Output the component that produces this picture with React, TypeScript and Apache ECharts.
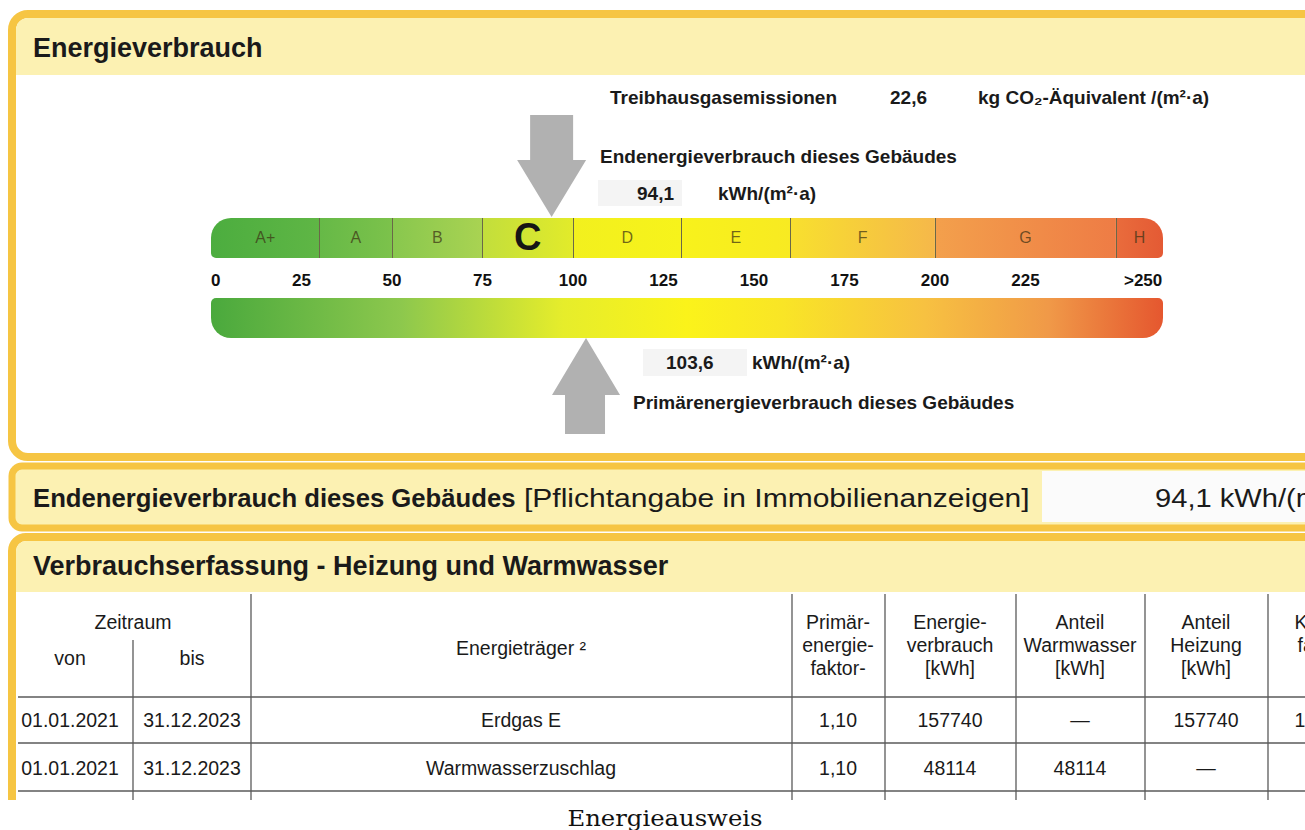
import React, { useEffect, useRef } from 'react';
import * as echarts from 'echarts';

// ---------- data ----------
const classNames = ['A+', 'A', 'B', 'C', 'D', 'E', 'F', 'G', 'H'];
const classBounds = [0, 30, 50, 75, 100, 130, 160, 200, 250, 263]; // last = drawn end of scale
const classColors: [string, string][] = [
  ['#4cad3f', '#5fb645'],
  ['#66b947', '#7cc24b'],
  ['#88c74e', '#a9d352'],
  ['#c2de3c', '#e2eb2a'],
  ['#f2f01e', '#f7f31b'],
  ['#f8f21b', '#f8ea22'],
  ['#f8e02e', '#f5b84a'],
  ['#f3a04c', '#ee7c45'],
  ['#e96c3c', '#e45a34'],
];
const scaleTicks = [0, 25, 50, 75, 100, 125, 150, 175, 200, 225];
const overflowLabel = '>250';
const overflowLabelAt = 257.5;
const energyClass = 'C';
const finalEnergy = 94.1;
const primaryEnergy = 103.6;
const ghgEmissions = 22.6;

const headerZeitraum = 'Zeitraum';
const headerVonBis = ['von', 'bis'];
const headerCarrier = 'Energieträger ²';
const headerCols = [
  ['Primär-', 'energie-', 'faktor-'],
  ['Energie-', 'verbrauch', '[kWh]'],
  ['Anteil', 'Warmwasser', '[kWh]'],
  ['Anteil', 'Heizung', '[kWh]'],
  ['Klima-', 'faktor'],
];
const tableRows = [
  ['01.01.2021', '31.12.2023', 'Erdgas E', '1,10', '157740', '—', '157740', '1'],
  ['01.01.2021', '31.12.2023', 'Warmwasserzuschlag', '1,10', '48114', '48114', '—', ''],
];

const fmt = (v: number) => v.toFixed(1).replace('.', ',');

// ---------- layout ----------
const FONT = '"Liberation Sans", Arial, Helvetica, sans-serif';
const BORDER = '#f6c543';
const HEAD = '#fcf1b2';
const colCenters = [70, 192, 521, 838, 950, 1080, 1206, 1300];
const vLines = [251, 792, 885, 1016, 1145, 1268];
const hLines = [697, 743, 791];
const rowY = [720, 768];

function txt(text: string, x: number, y: number, size: number, bold = false, align = 'left', extra: any = {}) {
  return {
    type: 'text',
    x,
    y,
    scaleX: extra.scaleX || 1,
    style: {
      text,
      fill: extra.fill || '#1a1a1a',
      font: `${bold ? 'bold ' : ''}${size}px ${extra.family || FONT}`,
      textAlign: align,
      textVerticalAlign: 'middle',
    },
    silent: true,
  };
}

export default function App() {
  const ref = useRef<HTMLDivElement>(null);

  useEffect(() => {
    if (!ref.current) return;
    const chart = echarts.init(ref.current, null, { renderer: 'svg' });

    const graphics: any[] = [];
    // panels
    graphics.push({ type: 'rect', shape: { x: 12, y: 14, width: 1400, height: 443, r: 16 }, style: { fill: '#fff', stroke: BORDER, lineWidth: 8 }, silent: true });
    graphics.push({ type: 'rect', shape: { x: 16, y: 18, width: 1400, height: 57, r: [12, 0, 0, 0] }, style: { fill: HEAD }, silent: true });
    graphics.push({ type: 'rect', shape: { x: 12, y: 466, width: 1400, height: 62, r: 10 }, style: { fill: HEAD, stroke: BORDER, lineWidth: 7 }, silent: true });
    graphics.push({ type: 'rect', shape: { x: 1042, y: 471, width: 300, height: 51 }, style: { fill: '#fbfbfb' }, silent: true });
    graphics.push({ type: 'rect', shape: { x: 12, y: 537, width: 1400, height: 320, r: 14 }, style: { fill: '#fff', stroke: BORDER, lineWidth: 8 }, silent: true });
    graphics.push({ type: 'rect', shape: { x: 16, y: 541, width: 1400, height: 51, r: [10, 0, 0, 0] }, style: { fill: HEAD }, silent: true });

    // faint scan boxes behind values
    graphics.push({ type: 'rect', shape: { x: 598, y: 180, width: 84, height: 26 }, style: { fill: '#f4f4f4' }, silent: true });
    graphics.push({ type: 'rect', shape: { x: 643, y: 349, width: 104, height: 27 }, style: { fill: '#f4f4f4' }, silent: true });

    // titles
    graphics.push(txt('Energieverbrauch', 33, 48, 27, true));
    graphics.push(txt('Endenergieverbrauch dieses Gebäudes', 33, 498, 25.7, true));
    graphics.push(txt('[Pflichtangabe in Immobilienanzeigen]', 524, 498, 26, false, 'left', { scaleX: 1.155 }));
    graphics.push(txt(`${fmt(finalEnergy)} kWh/(m²·a)`, 1155, 498, 26, false, 'left', { scaleX: 1.12 }));
    graphics.push(txt('Verbrauchserfassung - Heizung und Warmwasser', 33, 566, 27, true));

    // top labels
    graphics.push(txt('Treibhausgasemissionen', 610, 97, 19, true));
    graphics.push(txt(fmt(ghgEmissions), 890, 97, 19, true));
    graphics.push(txt('kg CO₂-Äquivalent /(m²·a)', 978, 97, 19, true));
    graphics.push(txt('Endenergieverbrauch dieses Gebäudes', 600, 156, 19, true));
    graphics.push(txt(fmt(finalEnergy), 637, 193, 19, true));
    graphics.push(txt('kWh/(m²·a)', 718, 193, 19, true));
    graphics.push(txt(fmt(primaryEnergy), 666, 362, 19, true));
    graphics.push(txt('kWh/(m²·a)', 752, 362, 19, true));
    graphics.push(txt('Primärenergieverbrauch dieses Gebäudes', 633, 402, 19, true));

    // table lines
    hLines.forEach((y) => graphics.push({ type: 'line', shape: { x1: 18, y1: y, x2: 1305, y2: y }, style: { stroke: '#5a5a5a', lineWidth: 1.3 }, silent: true }));
    vLines.forEach((x) => graphics.push({ type: 'line', shape: { x1: x, y1: 594, x2: x, y2: 800 }, style: { stroke: '#5a5a5a', lineWidth: 1.3 }, silent: true }));
    graphics.push({ type: 'line', shape: { x1: 133, y1: 640, x2: 133, y2: 800 }, style: { stroke: '#5a5a5a', lineWidth: 1.3 }, silent: true });

    // table header
    graphics.push(txt(headerZeitraum, 133, 622, 19.5, false, 'center'));
    graphics.push(txt(headerVonBis[0], colCenters[0], 658, 19.5, false, 'center'));
    graphics.push(txt(headerVonBis[1], colCenters[1], 658, 19.5, false, 'center'));
    graphics.push(txt(headerCarrier, colCenters[2], 648, 19.5, false, 'center'));
    headerCols.forEach((lines, i) => {
      const cx = i === 4 ? 1322 : colCenters[3 + i];
      lines.forEach((l, j) => graphics.push(txt(l, cx, 622 + j * 23, 19.5, false, 'center')));
    });
    // table rows
    tableRows.forEach((row, r) => {
      row.forEach((cell, c) => {
        if (cell) graphics.push(txt(cell, colCenters[c], rowY[r], 19.5, false, 'center'));
      });
    });

    // cover below image & caption
    graphics.push({ type: 'rect', shape: { x: 0, y: 800, width: 1305, height: 30 }, style: { fill: '#fff' }, silent: true });
    graphics.push(txt('Energieausweis', 665, 818, 22.5, false, 'center', { family: '"DejaVu Serif", "Liberation Serif", serif', fill: '#111', scaleX: 1.08 }));

    const classSeries = classNames.map((name, i) => {
      const isFirst = i === 0;
      const isLast = i === classNames.length - 1;
      const isCur = name === energyClass;
      return {
        name,
        type: 'bar',
        stack: 'classes',
        xAxisIndex: 0,
        yAxisIndex: 0,
        barWidth: 40,
        data: [classBounds[i + 1] - classBounds[i]],
        itemStyle: {
          color: {
            type: 'linear', x: 0, y: 0, x2: 1, y2: 0,
            colorStops: [
              { offset: 0, color: classColors[i][0] },
              { offset: 1, color: classColors[i][1] },
            ],
          },
          borderRadius: isFirst ? [20, 0, 0, 5] : isLast ? [0, 20, 5, 0] : 0,
        },
        label: {
          show: true,
          position: 'inside',
          formatter: name,
          fontFamily: FONT,
          fontSize: isCur ? 38 : 16,
          fontWeight: isCur ? 'bold' : 'normal',
          color: isCur ? '#151515' : 'rgba(60,50,20,0.72)',
          offset: [0, -1],
        },
        silent: true,
      };
    });

    chart.setOption({
      animation: false,
      graphic: { elements: graphics },
      grid: [
        { left: 211, top: 218, width: 952, height: 40 },
        { left: 211, top: 298, width: 952, height: 40 },
      ],
      xAxis: [
        {
          type: 'value', gridIndex: 0, min: classBounds[0], max: classBounds[classBounds.length - 1],
          axisLine: { show: false }, axisTick: { show: false }, splitLine: { show: false },
          axisLabel: {
            show: true,
            customValues: [...scaleTicks, overflowLabelAt],
            formatter: (v: number) => (v > 250 ? overflowLabel : String(v)),
            fontFamily: FONT, fontSize: 17, fontWeight: 'bold', color: '#111', margin: 14,
            alignMinLabel: 'left',
          },
        },
        {
          type: 'value', gridIndex: 1, min: classBounds[0], max: classBounds[classBounds.length - 1], show: false,
        },
      ],
      yAxis: [
        { type: 'category', gridIndex: 0, data: ['Skala'], show: false },
        { type: 'category', gridIndex: 1, data: ['Skala'], show: false },
      ],
      series: [
        ...classSeries,
        {
          name: 'Endenergie',
          type: 'scatter',
          xAxisIndex: 0,
          yAxisIndex: 0,
          data: [[finalEnergy, 0]],
          symbol: 'path://M13,0L56,0L56,45L69,45L34.5,102L0,45L13,45Z',
          symbolSize: [69, 102],
          symbolOffset: [0, -72],
          symbolKeepAspect: false,
          itemStyle: { color: '#9d9d9d' },
          clip: false,
          silent: true,
          z: 6,
          markLine: {
            silent: true,
            symbol: ['none', 'none'],
            label: { show: false },
            lineStyle: { color: '#6a6848', width: 1, type: 'solid' },
            data: classBounds.slice(1, classBounds.length - 1).map((v) => ({ xAxis: v })),
          },
        },
        {
          name: 'Verlauf',
          type: 'bar',
          xAxisIndex: 1,
          yAxisIndex: 1,
          barWidth: 40,
          data: [classBounds[classBounds.length - 1]],
          itemStyle: {
            color: {
              type: 'linear', x: 0, y: 0, x2: 1, y2: 0,
              colorStops: [
                { offset: 0, color: '#4aa93d' },
                { offset: 0.2, color: '#8dc84d' },
                { offset: 0.37, color: '#e6ed2b' },
                { offset: 0.5, color: '#fbf31a' },
                { offset: 0.6, color: '#f9e526' },
                { offset: 0.75, color: '#f7c141' },
                { offset: 0.88, color: '#f09948' },
                { offset: 1, color: '#e5572f' },
              ],
            },
            borderRadius: [5, 5, 20, 20],
          },
          silent: true,
        },
        {
          name: 'Primärenergie',
          type: 'scatter',
          xAxisIndex: 1,
          yAxisIndex: 1,
          data: [[primaryEnergy, 0]],
          symbol: 'path://M34,0L68,57L53,57L53,96L13,96L13,57L0,57Z',
          symbolSize: [68, 96],
          symbolOffset: [0, 68],
          symbolKeepAspect: false,
          itemStyle: { color: '#9d9d9d' },
          clip: false,
          silent: true,
          z: 6,
        },
      ],
    });

    return () => chart.dispose();
  }, []);

  return (
    <div
      ref={ref}
      style={{ position: 'absolute', left: 0, top: 0, width: 1305, height: 830, background: '#fff' }}
    />
  );
}
